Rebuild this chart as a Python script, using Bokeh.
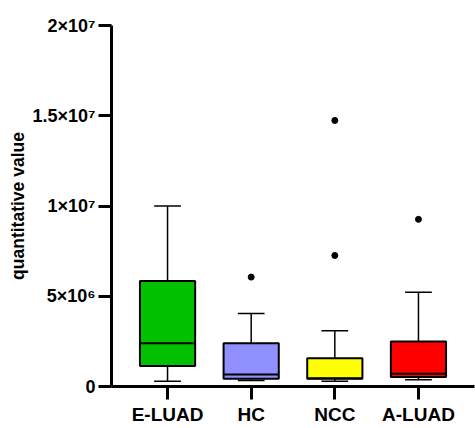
from bokeh.plotting import figure
from bokeh.models import Range1d, FixedTicker, ColumnDataSource
from bokeh.embed import file_html
from bokeh.resources import INLINE

categories = ["E-LUAD", "HC", "NCC", "A-LUAD"]
colors = ["#00C000", "#9090FF", "#FFFF00", "#FF0000"]
whisker_low = [0.29e6, 0.33e6, 0.29e6, 0.37e6]
q1 = [1.13e6, 0.43e6, 0.43e6, 0.52e6]
median = [2.4e6, 0.67e6, 0.46e6, 0.70e6]
q3 = [5.85e6, 2.4e6, 1.57e6, 2.5e6]
whisker_high = [1.0e7, 4.04e6, 3.09e6, 5.22e6]
outlier_cat = ["HC", "NCC", "NCC", "A-LUAD"]
outlier_val = [6.06e6, 14.74e6, 7.26e6, 9.26e6]
y_ticks = [0, 5e6, 1e7, 1.5e7, 2e7]
y_tick_labels = ["0", "5×10⁶", "1×10⁷", "1.5×10⁷", "2×10⁷"]

FONT = "Liberation Sans"
PAD = 0.67
BOX_W = 0.66
CAP_W = 0.32

pos = {c: i for i, c in enumerate(categories)}
xs = [pos[c] for c in categories]
out_x = [pos[c] for c in outlier_cat]

p = figure(frame_width=363, frame_height=361, output_backend="svg", toolbar_location=None,
           x_range=Range1d(-PAD, len(categories) - 1 + PAD),
           y_range=Range1d(0, 2e7))
p.min_border_left = 111
p.min_border_right = 1
p.min_border_top = 25
p.min_border_bottom = 42
p.outline_line_color = None
p.xgrid.grid_line_color = None
p.ygrid.grid_line_color = None
p.background_fill_color = "white"
p.border_fill_color = "white"

src = ColumnDataSource(dict(x=xs, cl=[x - CAP_W / 2 for x in xs], cr=[x + CAP_W / 2 for x in xs],
                            bl=[x - BOX_W / 2 for x in xs], br=[x + BOX_W / 2 for x in xs],
                            color=colors, lo=whisker_low, q1=q1, med=median, q3=q3, hi=whisker_high))

# whiskers
p.segment(x0="x", y0="q3", x1="x", y1="hi", source=src, line_color="black", line_width=1.5)
p.segment(x0="x", y0="lo", x1="x", y1="q1", source=src, line_color="black", line_width=1.5)
# caps
p.segment(x0="cl", y0="hi", x1="cr", y1="hi", source=src, line_color="black", line_width=1.5)
p.segment(x0="cl", y0="lo", x1="cr", y1="lo", source=src, line_color="black", line_width=1.5)
# boxes
p.vbar(x="x", top="q3", bottom="q1", width=BOX_W, source=src, fill_color="color",
       line_color="black", line_width=2)
# medians
p.segment(x0="bl", y0="med", x1="br", y1="med", source=src, line_color="black", line_width=2)
# outliers
p.scatter(x=out_x, y=outlier_val, size=6, color="black")

# axes styling
for ax in (p.xaxis[0], p.yaxis[0]):
    ax.axis_line_width = 3
    ax.axis_line_color = "black"
    ax.major_tick_line_width = 3
    ax.major_tick_line_color = "black"
    ax.major_tick_out = 13
    ax.major_tick_in = 0
    ax.minor_tick_line_color = None
    ax.major_label_text_font = FONT
    ax.major_label_text_font_style = "bold"
    ax.major_label_text_color = "black"

p.xaxis.ticker = FixedTicker(ticks=xs)
p.xaxis.major_label_overrides = {x: c for x, c in zip(xs, categories)}
p.xaxis.major_label_text_font_size = "19px"
p.xaxis.major_label_standoff = 4
p.yaxis.ticker = FixedTicker(ticks=y_ticks)
p.yaxis.major_label_overrides = {t: l for t, l in zip(y_ticks, y_tick_labels)}
p.yaxis.major_label_text_font_size = "18px"
p.yaxis.major_label_standoff = 3
p.yaxis.axis_label = "quantitative value"
p.yaxis.axis_label_text_font = FONT
p.yaxis.axis_label_text_font_style = "bold"
p.yaxis.axis_label_text_font_size = "17.5px"
p.yaxis.axis_label_text_color = "black"
p.yaxis.axis_label_standoff = 2

open("out.html", "w").write(file_html(p, INLINE))
